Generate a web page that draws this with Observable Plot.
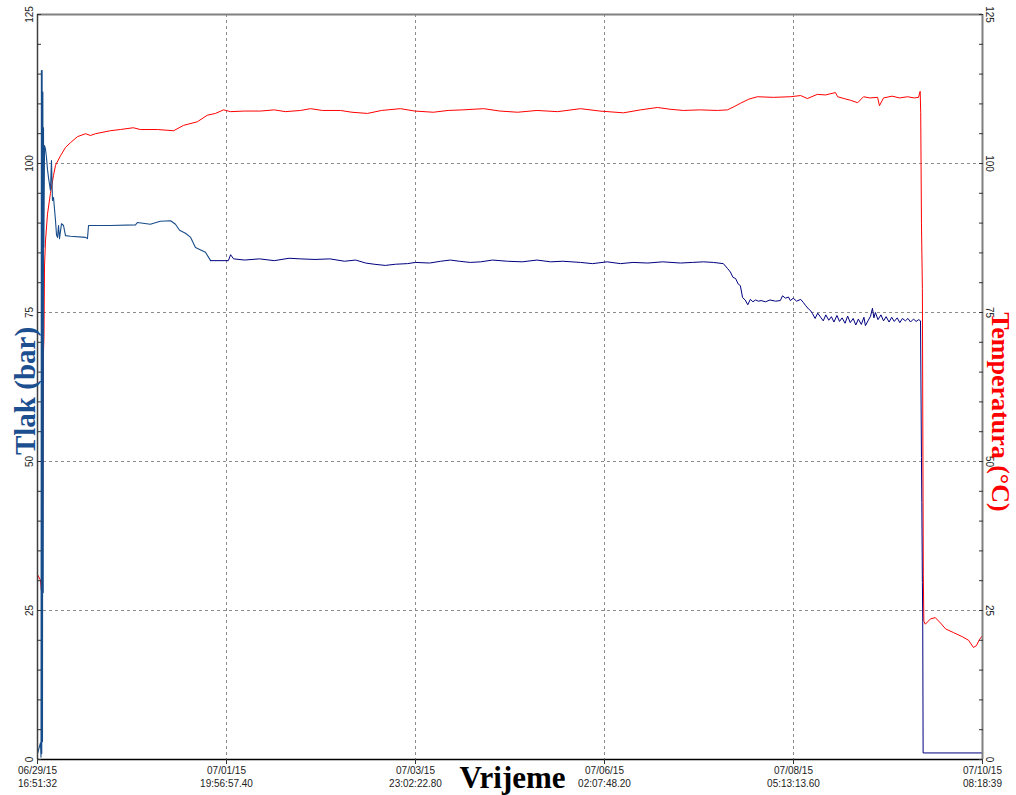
<!DOCTYPE html>
<html><head><meta charset="utf-8">
<script src="https://cdn.jsdelivr.net/npm/d3@7"></script>
<script src="https://cdn.jsdelivr.net/npm/@observablehq/plot@0.6"></script>
<style>body{margin:0;background:#fff}#chart svg{display:block}</style>
</head><body><div id="chart"></div>
<script>
// X tick labels (date line / time line)
const xTickDates = ["06/29/15", "07/01/15", "07/03/15", "07/06/15", "07/08/15", "07/10/15"];
const xTickTimes = ["16:51:32", "19:56:57.40", "23:02:22.80", "02:07:48.20", "05:13:13.60", "08:18:39"];
const yTicks = [0, 25, 50, 75, 100, 125];
const yGrid = [25, 50, 75, 100];
const yMinorTicks = [0,5,10,15,20,25,30,35,40,45,50,55,60,65,70,75,80,85,90,95,100,105,110,115,120,125];

// Pressure (bar): hours since start, value
const pressureHours = [0,0.8,0.95,1.05,1.15,1.25,1.35,1.45,1.55,1.62,1.72,1.9,2.16,2.43,2.7,3.0,3.5,3.78,4.05,4.33,4.87,5.14,5.41,5.68,5.95,6.49,7.03,7.57,8.9,13.0,13.5,13.8,19.7,26.5,27.0,30.5,33.2,36.0,37.3,38.4,40.0,41.4,42.7,45.4,46.8,
  51.6,52.2,53.0,56,60,64,68,71,75,79,83,86,88.7,91,94,96.8,100,102.2,106,109,111.6,114,117,119.8,123,127,131,135,138.7,142,146.8,150,154,157.6,161,165,169,173.8,177,180,182.7,185.4,
  186.5,187.3,188.0,188.7,189.4,190.0,190.6,191.3,192.0,192.7,193.4,194.1,194.9,195.6,196.8,198.0,199.5,200.8,201.4,202.2,203.0,203.5,204.3,205.2,206.3,207.0,207.6,208.4,209.0,
  209.5,210.2,210.9,211.7,212.4,213.1,213.9,214.6,215.3,216.1,216.8,217.5,218.3,219.0,219.7,220.5,221.2,221.9,222.7,223.4,223.8,224.5,225.2,225.7,226.1,226.5,227.2,228.0,228.7,229.4,230.2,230.9,231.6,232.4,233.1,233.8,234.6,235.3,236.0,236.8,237.5,238.2,238.7,
  238.95,239.05,239.2,239.3,239.4,255.45];
const pressureBar = [1.0,2.8,0.4,115.6,1.0,115.6,3,112,28,106,86,103,102.4,101,99,97.5,95.5,100.5,93.8,94.3,90.4,88,87.6,89.6,87.4,89.9,89.6,87.9,87.8,87.6,87.4,89.6,89.6,89.7,90.1,89.8,90.3,90.4,89.8,88.8,88.3,87.6,85.9,85.1,83.7,
  83.7,84.7,84.0,83.8,84.0,83.7,84.1,84.0,83.9,84.0,83.6,83.8,83.3,83.1,82.9,83.1,83.2,83.4,83.3,83.6,83.8,83.6,83.4,83.5,83.8,83.6,83.5,83.8,83.5,83.6,83.4,83.2,83.5,83.2,83.4,83.3,83.5,83.3,83.4,83.5,83.4,83.2,
  82.4,81.8,80.9,80.7,79.8,79.5,77.5,77.1,76.3,77.2,76.8,77.1,76.9,77.0,76.8,77.1,76.9,77.0,77.8,77.4,77.6,77.0,77.4,76.9,77.2,76.7,76.2,75.6,75.3,
  74.8,74.0,74.9,74.2,73.6,74.6,73.7,74.3,73.4,74.5,73.5,74.1,73.2,74.4,73.3,74.0,72.9,73.9,73.0,74.2,72.8,73.6,74.4,75.7,74.1,75.0,73.8,74.6,73.6,74.3,73.4,74.2,73.5,74.1,73.3,74.0,73.6,74.0,73.4,73.9,73.5,73.8,73.6,
  50.7,43.1,29.7,23.2,1.1,1.1];
const pressureSplitHour = 46.8;

// Temperature (°C): hours since start, value
const tempHours = [0,0.02,0.8,1.05,1.2,1.3,1.45,1.6,1.75,1.9,2.16,2.7,3.5,4.33,4.87,6.22,7.57,8.92,10.8,13.0,14.3,15.7,19.7,22.4,25.9,27.8,32.4,36.8,39.5,43.2,45.9,48.1,50.3,52.2,56,60.3,64,67,71.1,73.8,77,81.9,85,89.2,93,98.1,102,107,111,115,120.6,125,129.8,135,140.6,146.8,152,158.4,163,167.6,171,174.6,179,183.8,186.5,188.5,190.0,192.3,194.6,199,203.5,206.3,208.1,210.8,213,215.7,216.3,218,219.8,221.7,223.3,225,227.1,227.6,228.7,231,233,235.2,237,238.15,238.6,238.75,238.95,239.2,239.45,239.6,240.0,241.4,242.7,244.1,245.5,247.6,250.0,251.7,253.0,253.8,254.6,255.45];
const tempC = [28.4,31.0,30.1,28.4,35,29,45,68,71,82.8,87,91.5,95,98,99.7,101.3,102.7,103.5,104.5,105.0,104.7,105.0,105.5,105.7,106.0,105.7,105.7,105.5,106.4,107.0,108.1,108.4,109.0,108.7,108.8,108.8,109.0,108.7,108.9,109.2,108.9,108.9,108.6,108.4,108.9,109.2,108.8,108.6,108.9,109.0,109.2,108.8,108.6,108.9,108.7,109.2,108.8,108.5,109.0,109.4,109.1,108.9,109.0,108.9,109.0,109.6,110.1,110.8,111.2,111.1,111.2,111.4,110.9,111.6,111.5,111.9,111.2,110.9,110.6,110.2,111.2,111.0,111.1,109.7,111.0,111.3,111.0,111.2,111.0,111.1,112.1,108.6,90,79,31,23.2,22.7,23.6,23.8,22.9,21.9,21.3,20.6,20.0,18.8,19.1,20.1,20.8];

function parseTick(dateStr, timeStr) {
  const [mm, dd, yy] = dateStr.split("/").map(Number);
  const [h, m, s] = timeStr.split(":").map(Number);
  return new Date(Date.UTC(2000 + yy, mm - 1, dd, h, m, 0) + s * 1000);
}
const xTicks = xTickDates.map((d, i) => ({t: parseTick(d, xTickTimes[i]), label: d + "\n" + xTickTimes[i]}));
const t0 = xTicks[0].t, t1 = xTicks[xTicks.length - 1].t;
const toDate = h => new Date(t0.getTime() + h * 3600e3);

const pressure = pressureHours.map((h, i) => ({h, t: toDate(h), v: pressureBar[i]}));
const pEarly = pressure.filter(d => d.h <= pressureSplitHour);
const pLate = pressure.filter(d => d.h >= pressureSplitHour);
const temp = tempHours.map((h, i) => ({t: toDate(h), v: tempC[i]}));

const serif = "'Liberation Serif', 'Times New Roman', 'DejaVu Serif', serif";
const grid = {stroke: "#8c8c8c", strokeDasharray: "3,3", strokeWidth: 1};

const chart = Plot.plot({
  width: 1016, height: 795,
  marginLeft: 37, marginRight: 34, marginTop: 14, marginBottom: 36,
  x: {type: "utc", domain: [t0, t1], axis: null, label: null},
  y: {domain: [0, 125], axis: null, label: null},
  style: {fontFamily: "'Liberation Sans', Arial, sans-serif", fontSize: "10px", background: "#fff", color: "#222"},
  marks: [
    Plot.ruleY(yGrid, grid),
    Plot.ruleX(xTicks.slice(1, -1), {x: "t", ...grid}),
    Plot.line(temp, {x: "t", y: "v", stroke: "#ff0000", strokeWidth: 1}),
    Plot.line(pEarly, {x: "t", y: "v", stroke: "#174c8a", strokeWidth: 1.1}),
    Plot.line(pLate, {x: "t", y: "v", stroke: "#000080", strokeWidth: 1}),
    Plot.ruleY([125], {stroke: "#808080", strokeWidth: 2}),
    Plot.ruleX([t1], {stroke: "#808080", strokeWidth: 2}),
    Plot.ruleX([t0], {stroke: "#404040", strokeWidth: 1.5}),
    Plot.ruleY([0], {stroke: "#000", strokeWidth: 1.5}),
    Plot.axisY(yMinorTicks, {anchor: "left", tickSize: 4, dx: 4, tickFormat: () => "", label: null, stroke: "#333"}),
    Plot.axisY(yMinorTicks, {anchor: "right", tickSize: 4, dx: -4, tickFormat: () => "", label: null, stroke: "#333"}),
    Plot.axisX(xTicks.map(d => d.t), {anchor: "bottom", tickSize: 5, tickFormat: () => "", label: null, stroke: "#333"}),
    Plot.text(yTicks, {y: d => d, text: d => String(d), frameAnchor: "left", dx: -7.5, rotate: -90, textAnchor: "middle", lineAnchor: "middle", fill: "#222"}),
    Plot.text(yTicks, {y: d => d, text: d => String(d), frameAnchor: "right", dx: 6.5, rotate: 90, textAnchor: "middle", lineAnchor: "middle", fill: "#222"}),
    Plot.text(xTicks, {x: "t", text: "label", frameAnchor: "bottom", lineAnchor: "top", dy: 6, lineHeight: 1.25, fill: "#222"}),
    Plot.text(["Tlak (bar)"], {frameAnchor: "left", dx: -12, dy: 4, rotate: -90, textAnchor: "middle", lineAnchor: "middle", fontSize: 29, fontWeight: "bold", fontFamily: serif, fill: "#1c4f8f"}),
    Plot.text(["Temperatura (°C)"], {frameAnchor: "right", dx: 18, dy: 25, rotate: 90, textAnchor: "middle", lineAnchor: "middle", fontSize: 26, fontWeight: "bold", fontFamily: serif, fill: "#ff0000"}),
    Plot.text(["Vrijeme"], {frameAnchor: "bottom", dx: 2.5, dy: 28, lineAnchor: "bottom", fontSize: 31, fontWeight: "bold", fontFamily: serif, fill: "#000"})
  ]
});
document.getElementById("chart").appendChild(chart);
</script>
</body></html>
